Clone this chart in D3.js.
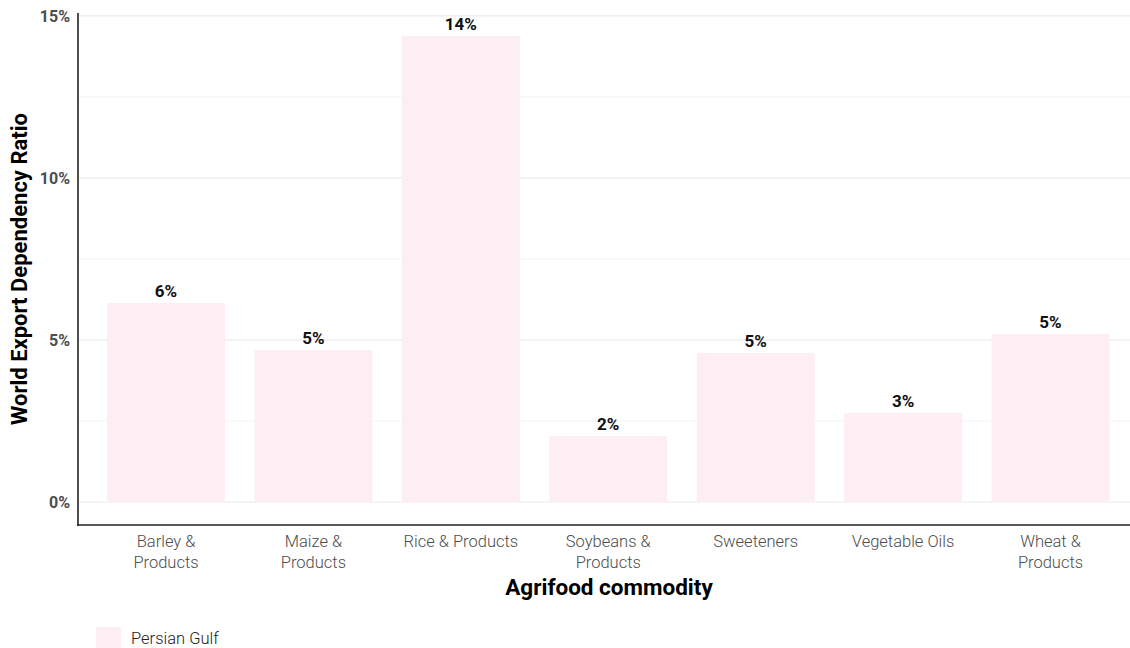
<!DOCTYPE html>
<html>
<head>
<meta charset="utf-8">
<script src="https://cdn.jsdelivr.net/npm/d3@7"></script>
<style>
  body { margin: 0; background: #fff; }
  svg { display: block; }
</style>
</head>
<body>
<svg id="chart" width="1130" height="648"></svg>
<script>
// Commodity categories (two-line labels split on "\n")
const categories = [
  "Barley &\nProducts",
  "Maize &\nProducts",
  "Rice & Products",
  "Soybeans &\nProducts",
  "Sweeteners",
  "Vegetable Oils",
  "Wheat &\nProducts"
];
// World export dependency ratio (%), Persian Gulf
const ratios = [6.14, 4.69, 14.38, 2.04, 4.60, 2.75, 5.19];
const yTicks = [0, 5, 10, 15];
const yMinorTicks = [2.5, 7.5, 12.5];
const seriesName = "Persian Gulf";

const svg = d3.select("#chart");
const barColor = "#fdeef3";
const gridColor = "#ebebeb";

const x = d3.scaleBand()
  .domain(categories)
  .range([92.3, 1124.2])
  .paddingInner(0.2)
  .paddingOuter(0.1);

const y = d3.scaleLinear()
  .domain([-0.71, 15.09])
  .range([525, 13]);

const left = 78, right = 1130;

// gridlines
svg.append("g").selectAll("line.minor")
  .data(yMinorTicks).join("line")
  .attr("x1", left).attr("x2", right)
  .attr("y1", d => y(d)).attr("y2", d => y(d))
  .attr("stroke", gridColor).attr("stroke-width", 0.6);
svg.append("g").selectAll("line.major")
  .data(yTicks).join("line")
  .attr("x1", left).attr("x2", right)
  .attr("y1", d => y(d)).attr("y2", d => y(d))
  .attr("stroke", gridColor).attr("stroke-width", 1.2);

// bars
svg.append("g").selectAll("rect")
  .data(categories).join("rect")
  .attr("x", d => x(d))
  .attr("width", x.bandwidth())
  .attr("y", (d, i) => y(ratios[i]))
  .attr("height", (d, i) => y(0) - y(ratios[i]))
  .attr("fill", barColor);

// value labels
svg.append("g").selectAll("text")
  .data(categories).join("text")
  .attr("x", d => x(d) + x.bandwidth() / 2)
  .attr("y", (d, i) => y(ratios[i]) - 6)
  .attr("text-anchor", "middle")
  .attr("font-family", "Roboto, sans-serif")
  .attr("font-weight", 700)
  .attr("font-size", 17)
  .attr("fill", "#111")
  .text((d, i) => Math.round(ratios[i]) + "%");

// y axis
const yAxis = svg.append("g")
  .attr("transform", `translate(${left},0)`)
  .call(d3.axisLeft(y).tickValues(yTicks).tickFormat(d => d + "%").tickSize(0).tickPadding(8));
yAxis.select(".domain").remove();
yAxis.selectAll("text")
  .attr("font-family", "Roboto, sans-serif")
  .attr("font-weight", 700)
  .attr("font-size", 16)
  .attr("fill", "#4d4d4d");

// x axis
const xAxis = svg.append("g")
  .attr("transform", `translate(0,525)`)
  .call(d3.axisBottom(x).tickSize(0).tickFormat(""));
xAxis.select(".domain").remove();
xAxis.selectAll(".tick").each(function(d) {
  const lines = d.split("\n");
  const t = d3.select(this).append("text")
    .attr("text-anchor", "middle")
    .attr("font-family", "Roboto, sans-serif")
    .attr("font-weight", 300)
    .attr("font-size", 16.5)
    .attr("fill", "#4d4d4d");
  lines.forEach((ln, i) => {
    t.append("tspan").attr("x", 0).attr("y", 22 + i * 21).text(ln);
  });
});

// axis lines
svg.append("line")
  .attr("x1", left).attr("x2", left).attr("y1", 13).attr("y2", 526)
  .attr("stroke", "#222").attr("stroke-width", 1.6);
svg.append("line")
  .attr("x1", left - 0.8).attr("x2", right).attr("y1", 525).attr("y2", 525)
  .attr("stroke", "#222").attr("stroke-width", 1.6);

// axis titles
svg.append("text")
  .attr("transform", `translate(27,${(13 + 525) / 2}) rotate(-90)`)
  .attr("text-anchor", "middle")
  .attr("font-family", "Roboto, sans-serif")
  .attr("font-weight", 700)
  .attr("font-size", 22)
  .attr("fill", "#000")
  .text("World Export Dependency Ratio");

svg.append("text")
  .attr("x", (left + right) / 2 + 5)
  .attr("y", 595)
  .attr("text-anchor", "middle")
  .attr("font-family", "Roboto, sans-serif")
  .attr("font-weight", 700)
  .attr("font-size", 22.5)
  .attr("fill", "#000")
  .text("Agrifood commodity");

// legend
const legend = svg.append("g").attr("transform", "translate(96,627)");
legend.append("rect").attr("width", 25).attr("height", 21).attr("fill", barColor);
legend.append("text")
  .attr("x", 35).attr("y", 17)
  .attr("font-family", "Roboto, sans-serif")
  .attr("font-weight", 300)
  .attr("font-size", 16.5)
  .attr("fill", "#222")
  .text(seriesName);
</script>
</body>
</html>
